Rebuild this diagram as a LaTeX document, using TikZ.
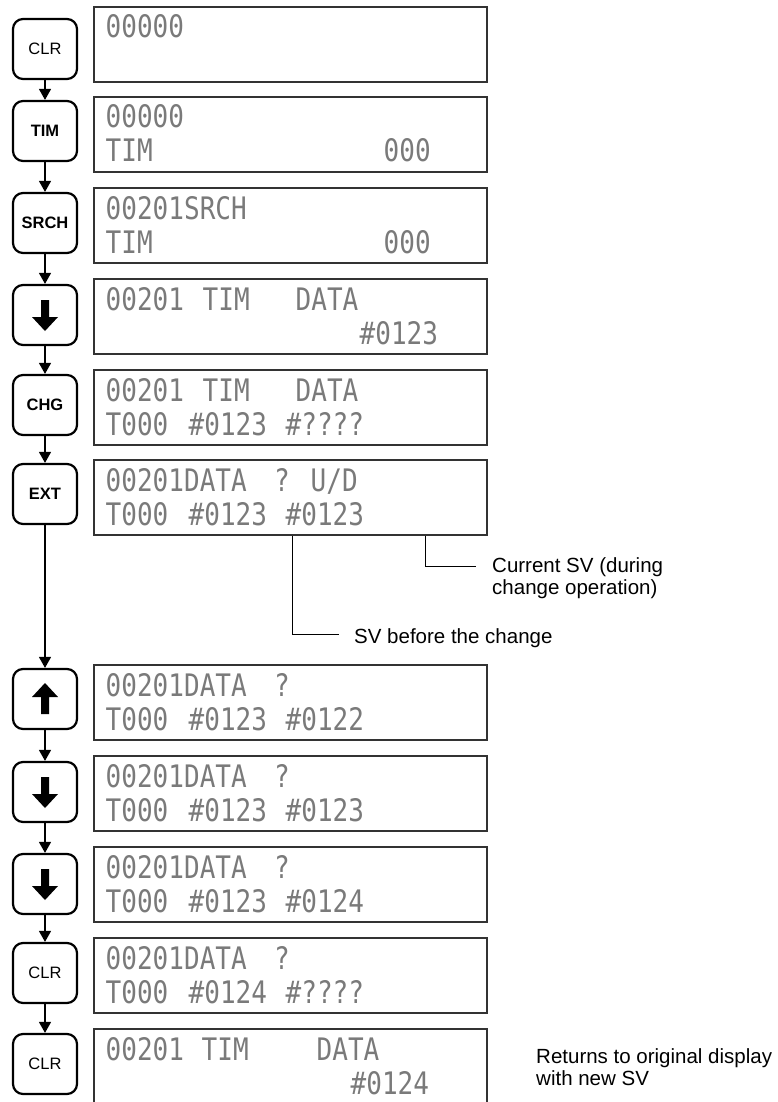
\documentclass[tikz,border=0pt]{standalone}
\usepackage{fontspec}
\setmainfont{Liberation Sans}
\newfontfamily\lcdfont[FakeStretch=0.84]{DejaVu Sans Mono}
\usetikzlibrary{arrows.meta}
\newcommand\lt[4]{\node[lcdtxt] (#1) at (#2,#3) {#4};}
\newcommand\dnglyph[1]{\fill[shift={(#1.center)}] (-4,-15) -- (4,-15) -- (4,2) -- (13,2) -- (0,16) -- (-13,2) -- (-4,2) -- cycle;}
\newcommand\upglyph[1]{\fill[shift={(#1.center)}] (-4,15) -- (4,15) -- (4,-2) -- (13,-2) -- (0,-16) -- (-13,-2) -- (-4,-2) -- cycle;}
\begin{document}
\begin{tikzpicture}[x=1pt,y=-1pt,
 key/.style={draw, line width=2.2pt, rounded corners=10pt, minimum width=64pt, minimum height=60pt, inner sep=0pt, font=\fontsize{16.5}{16.5}\selectfont},
 boldkey/.style={key, font=\fontsize{16.5}{16.5}\selectfont\bfseries},
 lcd/.style={draw=black!80, line width=1.2pt, minimum width=393pt, minimum height=75pt, inner sep=0pt},
 lcdtxt/.style={anchor=base west, inner sep=0pt, text=black!52, font=\lcdfont\fontsize{31}{31}\selectfont},
 conn/.style={line width=1.2pt, -{Triangle[width=12pt,length=11pt]}},
 lead/.style={line width=1pt},
 note/.style={anchor=base west, inner sep=0pt, font=\fontsize{20.5}{22}\selectfont}]
\useasboundingbox (0,0) rectangle (778,1102);

% keys
\node[key] (k1) at (45,49) {CLR};
\node[boldkey] (k2) at (45,131) {TIM};
\node[boldkey] (k3) at (45,223) {SRCH};
\node[key] (k4) at (45,315) {};
\node[boldkey] (k5) at (45,405) {CHG};
\node[boldkey] (k6) at (45,494) {EXT};
\node[key] (k7) at (45,699) {};
\node[key] (k8) at (45,792) {};
\node[key] (k9) at (45,884) {};
\node[key] (k10) at (45,973) {CLR};
\node[key] (k11) at (45,1064) {CLR};
\dnglyph{k4}
\upglyph{k7}
\dnglyph{k8}
\dnglyph{k9}

% connectors
\draw[conn] (k1) -- (k2);
\draw[conn] (k2) -- (k3);
\draw[conn] (k3) -- (k4);
\draw[conn] (k4) -- (k5);
\draw[conn] (k5) -- (k6);
\draw[conn] (k6) -- (k7);
\draw[conn] (k7) -- (k8);
\draw[conn] (k8) -- (k9);
\draw[conn] (k9) -- (k10);
\draw[conn] (k10) -- (k11);

% displays
\node[lcd] (d1) at (290.5,44.5) {};
\node[lcd] (d2) at (290.5,134.5) {};
\node[lcd] (d3) at (290.5,225.5) {};
\node[lcd] (d4) at (290.5,316.5) {};
\node[lcd] (d5) at (290.5,407.5) {};
\node[lcd] (d6) at (290.5,497.5) {};
\node[lcd] (d7) at (290.5,702.5) {};
\node[lcd] (d8) at (290.5,793.5) {};
\node[lcd] (d9) at (290.5,884.5) {};
\node[lcd] (d10) at (290.5,975.5) {};
\node[lcd] (d11) at (290.5,1066.5) {};

% display texts
\lt{t1a}{105.5}{38}{00000}
\lt{t2a}{105.5}{128}{00000}
\lt{t2b}{105.5}{162}{TIM}
\lt{t2c}{383.5}{162}{000}
\lt{t3a}{105.5}{219}{00201SRCH}
\lt{t3c}{105.5}{253}{TIM}
\lt{t3d}{383.5}{253}{000}
\lt{t4a}{105.5}{310}{00201}
\lt{t4b}{202.5}{310}{TIM}
\lt{t4c}{295.5}{310}{DATA}
\lt{t4d}{359.5}{344}{\#0123}
\lt{t5a}{105.5}{401}{00201}
\lt{t5b}{202.5}{401}{TIM}
\lt{t5c}{295.5}{401}{DATA}
\lt{t5d}{105.5}{435}{T000}
\lt{t5e}{188.5}{435}{\#0123}
\lt{t5f}{285.5}{435}{\#????}
\lt{t6a}{105.5}{491}{00201DATA}
\lt{t6c}{274}{491}{?}
\lt{t6d}{310.5}{491}{U/D}
\lt{t6e}{105.5}{525}{T000}
\lt{t6f}{188.5}{525}{\#0123}
\lt{t6g}{285.5}{525}{\#0123}
\lt{t7a}{105.5}{696}{00201DATA}
\lt{t7c}{274}{696}{?}
\lt{t7d}{105.5}{730}{T000}
\lt{t7e}{188.5}{730}{\#0123}
\lt{t7f}{285.5}{730}{\#0122}
\lt{t8a}{105.5}{787}{00201DATA}
\lt{t8c}{274}{787}{?}
\lt{t8d}{105.5}{821}{T000}
\lt{t8e}{188.5}{821}{\#0123}
\lt{t8f}{285.5}{821}{\#0123}
\lt{t9a}{105.5}{878}{00201DATA}
\lt{t9c}{274}{878}{?}
\lt{t9d}{105.5}{912}{T000}
\lt{t9e}{188.5}{912}{\#0123}
\lt{t9f}{285.5}{912}{\#0124}
\lt{t10a}{105.5}{969}{00201DATA}
\lt{t10c}{274}{969}{?}
\lt{t10d}{105.5}{1003}{T000}
\lt{t10e}{188.5}{1003}{\#0124}
\lt{t10f}{285.5}{1003}{\#????}
\lt{t11a}{105.5}{1060}{00201}
\lt{t11b}{201.5}{1060}{TIM}
\lt{t11c}{316.5}{1060}{DATA}
\lt{t11d}{350.5}{1094}{\#0124}

% leaders
\path (d6.south west) ++(199,0) coordinate (l1a);
\coordinate (l1b) at (339,634);
\draw[lead] (l1a) |- (l1b);
\path (d6.south west) ++(332,0) coordinate (l2a);
\coordinate (l2b) at (476,566);
\draw[lead] (l2a) |- (l2b);

% notes
\node[note] (n1) at (354,643) {SV before the change};
\node[note] (n2a) at (492,572) {Current SV (during};
\node[note] (n2b) at (492,594) {change operation)};
\node[note] (n3a) at (536,1063) {Returns to original display};
\node[note] (n3b) at (536,1085) {with new SV};
\end{tikzpicture}
\end{document}
